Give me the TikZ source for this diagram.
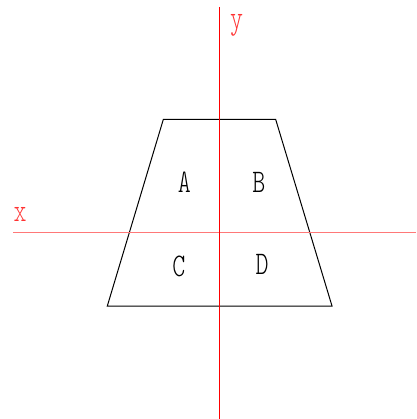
\documentclass[tikz,border=0pt]{standalone}
\usepackage{fontspec}
\newfontfamily\cadfont{Latin Modern Mono Light}
\definecolor{axisred}{RGB}{255,0,0}
\definecolor{axispink}{RGB}{255,120,120}
\definecolor{labred}{RGB}{255,50,50}
\tikzset{
  edge/.style={draw=black, line width=1pt},
  lab/.style={font=\cadfont\fontsize{33}{33}\selectfont, inner sep=0pt, xscale=0.75, transform shape},
  axlab/.style={lab, text=labred},
}
\begin{document}
\begin{tikzpicture}[x=1pt,y=-1pt]
\useasboundingbox (0,0) rectangle (416,419);
\coordinate (vt) at (219.5,7);
\coordinate (vb) at (219.5,419);
\coordinate (hl) at (13,232.3);
\coordinate (hr) at (416,232.3);
\coordinate (tl) at (163.3,119.5);
\coordinate (tr) at (275.7,119.5);
\coordinate (br) at (332,306);
\coordinate (bl) at (107.3,306);
\draw[edge] (tl) -- (tr) -- (br) -- (bl) -- cycle;
\draw[draw=axispink, line width=1.5pt] (hl) -- (hr);
\draw[draw=axisred, line width=1pt] (vt) -- (vb);
\node[lab] (A) at (184.3,182.5) {A};
\node[lab] (B) at (258.8,182.5) {B};
\node[lab] (C) at (178.8,266) {C};
\node[lab] (D) at (262,264.5) {D};
\node[axlab, anchor=base] (xl) at (20,221.7) {x};
\node[axlab, anchor=base] (yl) at (236.7,29) {y};
\end{tikzpicture}
\end{document}
